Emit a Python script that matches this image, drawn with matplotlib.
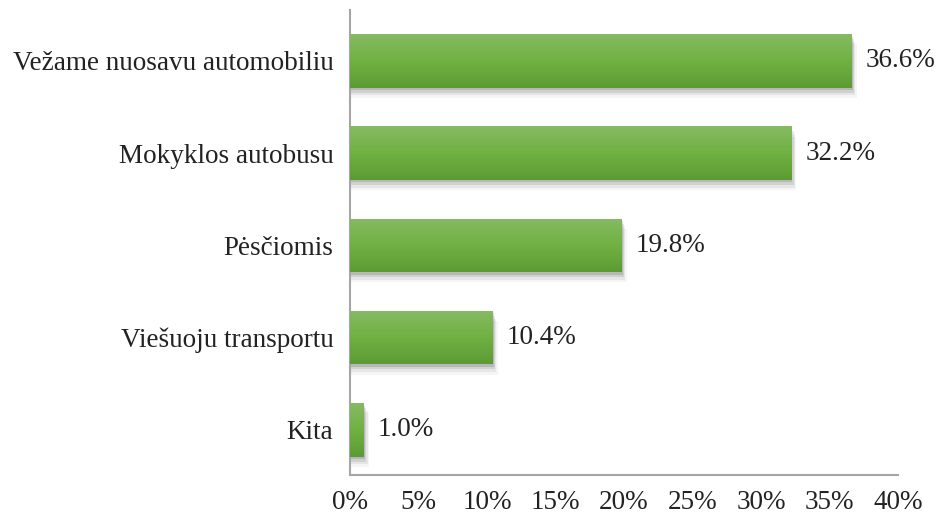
import numpy as np
import matplotlib.pyplot as plt
from matplotlib.colors import LinearSegmentedColormap

categories = ["Vežame nuosavu automobiliu", "Mokyklos autobusu", "Pėsčiomis",
              "Viešuoju transportu", "Kita"]
values = [36.6, 32.2, 19.8, 10.4, 1.0]
xticks = [0, 5, 10, 15, 20, 25, 30, 35, 40]

plt.rcParams['font.family'] = ['Liberation Serif', 'DejaVu Serif']
fs = 19.5

fig = plt.figure(figsize=(9.42, 5.18), dpi=100)
ax = fig.add_axes([350 / 942, 1 - 475 / 518, 548 / 942, 465 / 518])

ypos = np.arange(len(categories))[::-1]
h = 0.58
cmap = LinearSegmentedColormap.from_list("g", ["#5c9b33", "#70b142", "#86ba64"])
grad = np.linspace(0, 1, 100).reshape(-1, 1)

for y, v in zip(ypos, values):
    # soft shadow
    for k, a in enumerate([0.12, 0.09, 0.06, 0.04]):
        d = 0.08 + k * 0.08
        ax.add_patch(plt.Rectangle((0, y - h / 2 - d * 0.35), v + d * 1.2, h,
                                   color="black", alpha=a, lw=0, zorder=1))
    bar = ax.barh(y, v, height=h, color="none", zorder=2)[0]
    im = ax.imshow(grad, cmap=cmap, aspect="auto", origin="lower",
                   extent=[0, v, y - h / 2, y + h / 2], zorder=3)
    im.set_clip_path(bar)
    ax.text(v + 1.05, y, f"{v:.1f}%", va="center", ha="left", fontsize=fs,
            color="#222222", zorder=4)

ax.set_xlim(0, 40)
ax.set_ylim(-0.49, 4.55)
ax.set_xticks(xticks)
ax.set_xticklabels([f"{t}%" for t in xticks], fontsize=fs)
ax.set_yticks(ypos)
ax.set_yticklabels(categories, fontsize=fs)
ax.tick_params(axis="both", length=0, colors="#222222")
ax.tick_params(axis="x", pad=11)
ax.tick_params(axis="y", pad=12)
for s in ["top", "right"]:
    ax.spines[s].set_visible(False)
for s in ["left", "bottom"]:
    ax.spines[s].set_color("#a6a6a6")
    ax.spines[s].set_linewidth(1.5)

fig.savefig("out.png", dpi=100)
